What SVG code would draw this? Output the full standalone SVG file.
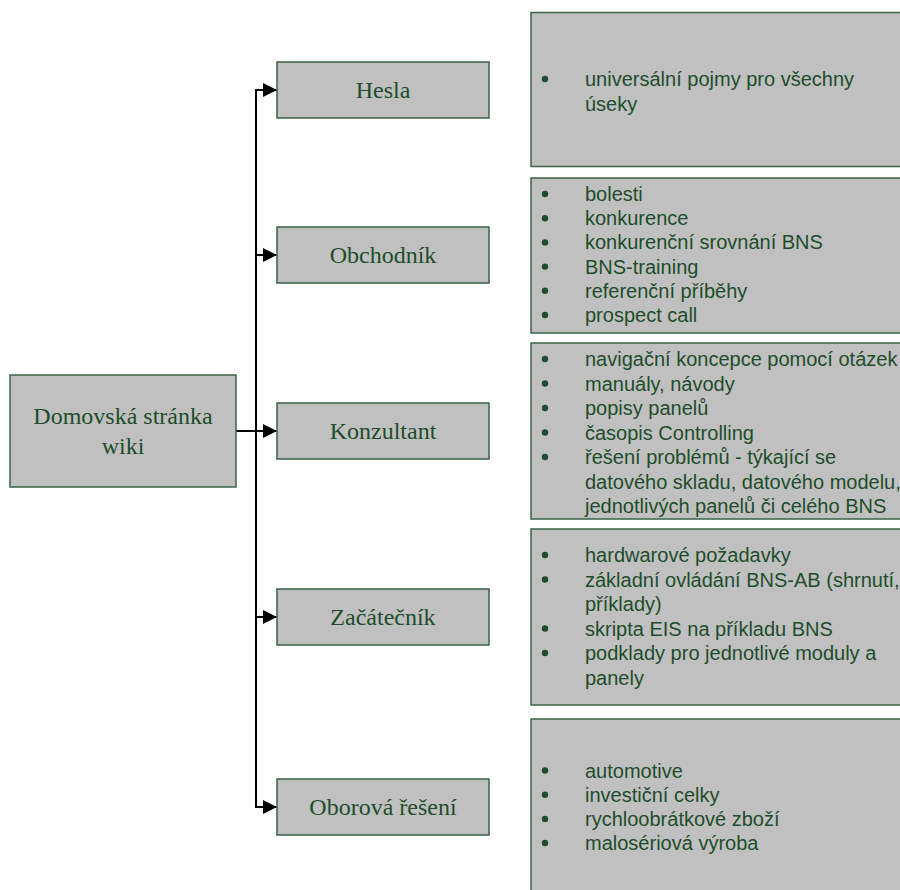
<svg xmlns="http://www.w3.org/2000/svg" width="900" height="890" viewBox="0 0 900 890">
  <style>
    .node { fill: #c0c0c0; stroke: #3a6348; stroke-width: 1.5; }
    .label { font-family: "Liberation Serif", "Times New Roman", serif; font-size: 24px; fill: #1e4d2b; text-anchor: middle; }
    .list { font-family: "Liberation Sans", Arial, sans-serif; font-size: 20px; fill: #1e4d2b; }
    .bullet { fill: #1e4d2b; }
    .conn { fill: none; stroke: #000; stroke-width: 2; }
  </style>
  <defs>
    <marker id="arrow" markerUnits="userSpaceOnUse" markerWidth="14" markerHeight="14" refX="14" refY="7" orient="auto">
      <path d="M0,0 L14,7 L0,14 Z" fill="#000"/>
    </marker>
  </defs>
  <rect width="900" height="890" fill="#fff"/>

  <!-- connectors: root to each section -->
  <g id="connectors">
    <path class="conn" d="M236,431 H256 V90 H277" marker-end="url(#arrow)"/>
    <path class="conn" d="M236,431 H256 V255 H277" marker-end="url(#arrow)"/>
    <path class="conn" d="M236,431 H277" marker-end="url(#arrow)"/>
    <path class="conn" d="M236,431 H256 V617 H277" marker-end="url(#arrow)"/>
    <path class="conn" d="M236,431 H256 V807 H277" marker-end="url(#arrow)"/>
  </g>

  <!-- root -->
  <g id="root">
    <rect class="node" x="10" y="375" width="226" height="112"/>
    <text class="label" x="123" y="424">Domovská stránka</text>
    <text class="label" x="123" y="454">wiki</text>
  </g>

  <!-- section nodes -->
  <g id="hesla">
    <rect class="node" x="277" y="62" width="212" height="56"/>
    <text class="label" x="383" y="98">Hesla</text>
  </g>
  <g id="obchodnik">
    <rect class="node" x="277" y="227" width="212" height="56"/>
    <text class="label" x="383" y="263">Obchodník</text>
  </g>
  <g id="konzultant">
    <rect class="node" x="277" y="403" width="212" height="56"/>
    <text class="label" x="383" y="439">Konzultant</text>
  </g>
  <g id="zacatecnik">
    <rect class="node" x="277" y="589" width="212" height="56"/>
    <text class="label" x="383" y="625">Začátečník</text>
  </g>
  <g id="oborova">
    <rect class="node" x="277" y="779" width="212" height="56"/>
    <text class="label" x="383" y="815">Oborová řešení</text>
  </g>

  <!-- detail lists -->
  <g id="hesla-list">
    <rect class="node" x="531" y="12.5" width="400" height="154"/>
    <circle class="bullet" cx="545" cy="79" r="3.2"/>
    <text class="list" x="585" y="86">universální pojmy pro všechny</text>
    <text class="list" x="585" y="110.5">úseky</text>
  </g>
  <g id="obchodnik-list">
    <rect class="node" x="531" y="178" width="400" height="155"/>
    <circle class="bullet" cx="545" cy="194" r="3.2"/>
    <circle class="bullet" cx="545" cy="218.2" r="3.2"/>
    <circle class="bullet" cx="545" cy="242.4" r="3.2"/>
    <circle class="bullet" cx="545" cy="266.6" r="3.2"/>
    <circle class="bullet" cx="545" cy="290.8" r="3.2"/>
    <circle class="bullet" cx="545" cy="315" r="3.2"/>
    <text class="list" x="585" y="201">bolesti</text>
    <text class="list" x="585" y="225.2">konkurence</text>
    <text class="list" x="585" y="249.4">konkurenční srovnání BNS</text>
    <text class="list" x="585" y="273.6">BNS-training</text>
    <text class="list" x="585" y="297.8">referenční příběhy</text>
    <text class="list" x="585" y="322">prospect call</text>
  </g>
  <g id="konzultant-list">
    <rect class="node" x="531" y="343" width="400" height="176"/>
    <circle class="bullet" cx="545" cy="359" r="3.2"/>
    <circle class="bullet" cx="545" cy="383.5" r="3.2"/>
    <circle class="bullet" cx="545" cy="408" r="3.2"/>
    <circle class="bullet" cx="545" cy="432.5" r="3.2"/>
    <circle class="bullet" cx="545" cy="457" r="3.2"/>
    <text class="list" x="585" y="366">navigační koncepce pomocí otázek</text>
    <text class="list" x="585" y="390.5">manuály, návody</text>
    <text class="list" x="585" y="415">popisy panelů</text>
    <text class="list" x="585" y="439.5">časopis Controlling</text>
    <text class="list" x="585" y="464">řešení problémů - týkající se</text>
    <text class="list" x="585" y="488.5">datového skladu, datového modelu,</text>
    <text class="list" x="585" y="513">jednotlivých panelů či celého BNS</text>
  </g>
  <g id="zacatecnik-list">
    <rect class="node" x="531" y="529" width="400" height="176"/>
    <circle class="bullet" cx="545" cy="555" r="3.2"/>
    <circle class="bullet" cx="545" cy="579.5" r="3.2"/>
    <circle class="bullet" cx="545" cy="628.5" r="3.2"/>
    <circle class="bullet" cx="545" cy="653" r="3.2"/>
    <text class="list" x="585" y="562">hardwarové požadavky</text>
    <text class="list" x="585" y="586.5">základní ovládání BNS-AB (shrnutí,</text>
    <text class="list" x="585" y="611">příklady)</text>
    <text class="list" x="585" y="635.5">skripta EIS na příkladu BNS</text>
    <text class="list" x="585" y="660">podklady pro jednotlivé moduly a</text>
    <text class="list" x="585" y="684.5">panely</text>
  </g>
  <g id="oborova-list">
    <rect class="node" x="531" y="719" width="400" height="176"/>
    <circle class="bullet" cx="545" cy="770.5" r="3.2"/>
    <circle class="bullet" cx="545" cy="794.7" r="3.2"/>
    <circle class="bullet" cx="545" cy="818.9" r="3.2"/>
    <circle class="bullet" cx="545" cy="843" r="3.2"/>
    <text class="list" x="585" y="777.5">automotive</text>
    <text class="list" x="585" y="801.7">investiční celky</text>
    <text class="list" x="585" y="825.9">rychloobrátkové zboží</text>
    <text class="list" x="585" y="850">malosériová výroba</text>
  </g>
</svg>
